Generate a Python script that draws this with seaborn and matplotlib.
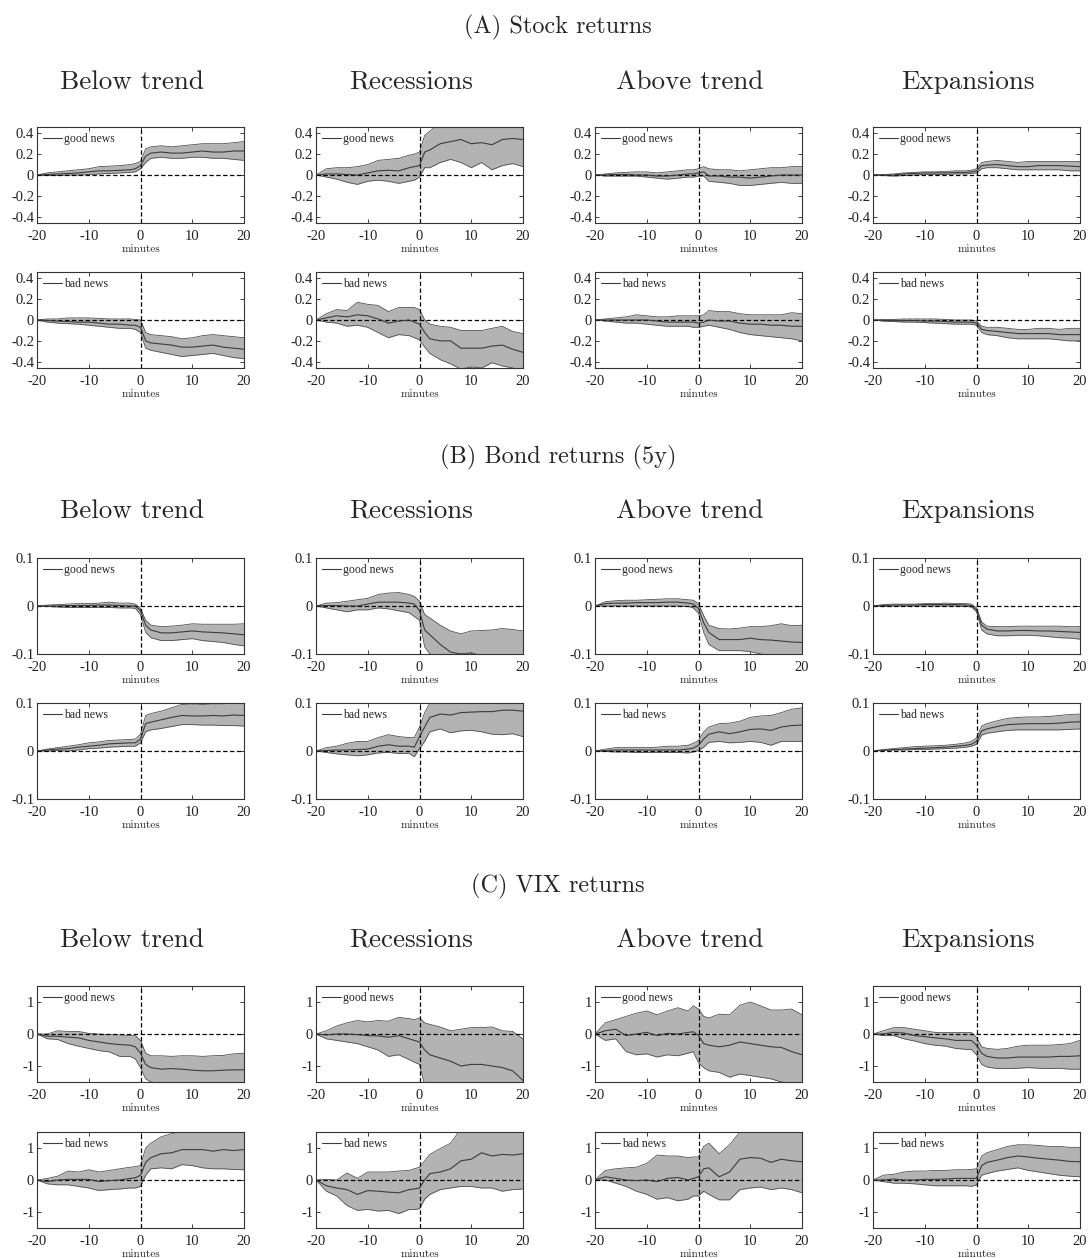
import numpy as np
import pandas as pd
import matplotlib
matplotlib.use("Agg")
import matplotlib.pyplot as plt
import seaborn as sns

# ---------------- data ----------------
minutes = [-20, -18, -16, -14, -12, -10, -8, -6, -4, -2, -1, 0, 1, 2, 4, 6, 8, 10, 12, 14, 16, 18, 20]

panel_titles = ["(A) Stock returns", "(B) Bond returns (5y)", "(C) VIX returns"]
column_titles = ["Below trend", "Recessions", "Above trend", "Expansions"]
news_labels = ["good news", "bad news"]

# Panel A: stock returns
A_below_good_mean = [0, .005, .01, .015, .02, .03, .04, .04, .045, .05, .06, .09, .18, .21, .22, .21, .21, .22, .23, .22, .22, .23, .23]
A_below_good_hi = [0, .02, .03, .04, .05, .06, .08, .085, .09, .10, .11, .13, .25, .27, .28, .27, .28, .29, .30, .30, .30, .31, .32]
A_below_good_lo = [0, -.005, -.005, 0, 0, .005, .01, .015, .02, .025, .03, .06, .12, .16, .17, .16, .16, .17, .17, .16, .16, .15, .14]
A_below_bad_mean = [0, -.005, -.01, -.015, -.02, -.02, -.03, -.04, -.04, -.05, -.05, -.07, -.20, -.22, -.23, -.24, -.26, -.26, -.25, -.24, -.26, -.27, -.28]
A_below_bad_hi = [0, .01, .01, .02, .02, .02, .015, .01, .01, .01, .005, 0, -.12, -.14, -.15, -.16, -.18, -.17, -.15, -.14, -.15, -.16, -.17]
A_below_bad_lo = [0, -.02, -.03, -.035, -.04, -.05, -.06, -.07, -.08, -.08, -.09, -.12, -.27, -.29, -.31, -.33, -.35, -.34, -.33, -.32, -.34, -.36, -.37]

A_rec_good_mean = [0, .01, .01, .005, 0, .02, .04, .045, .04, .07, .08, .09, .22, .24, .30, .32, .34, .30, .31, .29, .34, .35, .34]
A_rec_good_hi = [0, .06, .07, .07, .08, .10, .14, .15, .16, .19, .20, .22, .38, .42, .50, .52, .55, .50, .52, .50, .55, .58, .56]
A_rec_good_lo = [0, -.02, -.04, -.07, -.09, -.06, -.05, -.06, -.08, -.06, -.05, -.02, .07, .07, .12, .15, .12, .07, .12, .05, .09, .11, .08]
A_rec_bad_mean = [0, .02, .04, .03, .05, .04, .01, -.03, -.01, 0, -.02, -.04, -.12, -.18, -.20, -.20, -.27, -.27, -.27, -.25, -.24, -.28, -.31]
A_rec_bad_hi = [0, .06, .10, .09, .17, .15, .14, .08, .12, .12, .12, .10, 0, -.04, -.06, -.07, -.10, -.10, -.10, -.08, -.06, -.11, -.13]
A_rec_bad_lo = [0, -.02, -.03, -.06, -.05, -.07, -.12, -.17, -.14, -.15, -.17, -.19, -.26, -.32, -.38, -.42, -.47, -.45, -.46, -.41, -.44, -.46, -.48]

A_above_good_mean = [0, 0, .005, .005, 0, 0, -.01, -.01, 0, .01, .01, .02, .03, -.01, -.01, -.02, -.02, -.03, -.02, -.01, 0, 0, 0]
A_above_good_hi = [0, .01, .02, .025, .03, .03, .02, .03, .04, .05, .05, .06, .08, .06, .05, .05, .04, .05, .06, .07, .07, .08, .08]
A_above_good_lo = [0, -.01, -.01, -.01, -.01, -.02, -.03, -.04, -.03, -.02, -.02, -.01, -.01, -.06, -.07, -.08, -.10, -.10, -.09, -.08, -.07, -.08, -.08]
A_above_bad_mean = [0, 0, 0, 0, 0, 0, -.01, -.02, -.02, -.02, -.02, -.03, -.02, 0, -.01, -.01, -.03, -.04, -.04, -.05, -.05, -.06, -.06]
A_above_bad_hi = [0, .01, .02, .03, .05, .04, .03, .03, .04, .04, .04, .04, .05, .09, .08, .08, .06, .05, .05, .05, .05, .07, .06]
A_above_bad_lo = [0, -.01, -.02, -.03, -.03, -.04, -.05, -.06, -.06, -.06, -.07, -.07, -.06, -.05, -.07, -.09, -.12, -.14, -.15, -.16, -.17, -.18, -.20]

A_exp_good_mean = [0, 0, 0, .01, .015, .02, .02, .02, .025, .025, .03, .04, .09, .095, .10, .09, .08, .08, .09, .09, .09, .085, .08]
A_exp_good_hi = [0, .005, .01, .02, .025, .03, .03, .035, .04, .04, .045, .06, .12, .13, .14, .13, .12, .13, .13, .13, .13, .13, .13]
A_exp_good_lo = [0, -.005, -.01, -.005, 0, .005, .005, .005, .01, .01, .015, .02, .06, .07, .07, .06, .05, .05, .05, .05, .05, .04, .04]
A_exp_bad_mean = [0, -.005, -.005, -.005, -.005, -.01, -.01, -.015, -.02, -.02, -.02, -.03, -.09, -.10, -.11, -.12, -.13, -.13, -.13, -.13, -.14, -.14, -.14]
A_exp_bad_hi = [0, .005, .005, .01, .01, .01, .01, .005, 0, 0, 0, -.01, -.06, -.07, -.07, -.08, -.09, -.09, -.08, -.08, -.09, -.08, -.08]
A_exp_bad_lo = [0, -.01, -.015, -.02, -.02, -.025, -.03, -.035, -.04, -.04, -.04, -.05, -.12, -.14, -.15, -.17, -.18, -.18, -.18, -.18, -.19, -.20, -.20]

# Panel B: bond returns (5y)
B_below_good_mean = [0, 0, 0, .001, .001, .001, .002, .002, .001, 0, 0, -.01, -.04, -.05, -.056, -.056, -.054, -.052, -.054, -.055, -.056, -.058, -.06]
B_below_good_hi = [0, .002, .003, .004, .005, .005, .006, .008, .006, .006, .004, -.005, -.03, -.04, -.043, -.042, -.040, -.037, -.038, -.038, -.038, -.038, -.037]
B_below_good_lo = [0, -.001, -.002, -.003, -.003, -.003, -.003, -.003, -.004, -.004, -.005, -.018, -.055, -.066, -.072, -.072, -.070, -.068, -.072, -.074, -.076, -.080, -.083]
B_below_bad_mean = [0, .002, .004, .005, .008, .010, .012, .015, .016, .017, .017, .025, .057, .060, .065, .070, .074, .073, .073, .074, .073, .075, .074]
B_below_bad_hi = [0, .004, .007, .010, .013, .017, .019, .022, .023, .024, .025, .035, .074, .078, .083, .090, .097, .098, .097, .098, .098, .100, .100]
B_below_bad_lo = [0, 0, .001, 0, .002, .005, .006, .008, .009, .010, .010, .017, .040, .044, .047, .051, .055, .055, .054, .054, .053, .053, .052]

B_rec_good_mean = [0, .001, .001, 0, 0, .004, .008, .008, .008, .006, .004, -.01, -.05, -.06, -.08, -.096, -.10, -.10, -.102, -.105, -.107, -.11, -.112]
B_rec_good_hi = [0, .006, .007, .010, .013, .016, .024, .027, .028, .024, .020, .010, -.018, -.025, -.040, -.052, -.058, -.052, -.051, -.050, -.047, -.049, -.052]
B_rec_good_lo = [0, -.004, -.008, -.012, -.008, -.008, -.004, -.006, -.010, -.014, -.022, -.030, -.085, -.10, -.108, -.105, -.10, -.097, -.105, -.11, -.12, -.12, -.13]
B_rec_bad_mean = [0, .001, .002, .002, .003, .004, .010, .013, .010, .010, .008, .030, .050, .070, .077, .075, .080, .081, .082, .082, .085, .085, .083]
B_rec_bad_hi = [0, .007, .010, .016, .020, .020, .028, .034, .030, .028, .028, .050, .080, .100, .115, .120, .120, .130, .130, .130, .140, .140, .140]
B_rec_bad_lo = [0, -.003, -.006, -.008, -.010, -.008, -.004, -.003, -.005, -.005, -.012, .005, .020, .040, .046, .038, .042, .043, .040, .035, .034, .036, .030]

B_above_good_mean = [0, .005, .006, .006, .007, .007, .007, .008, .008, .006, .004, -.005, -.035, -.055, -.070, -.070, -.070, -.067, -.070, -.071, -.073, -.075, -.076]
B_above_good_hi = [0, .009, .011, .012, .012, .013, .014, .015, .015, .013, .012, .005, -.020, -.040, -.047, -.048, -.046, -.043, -.043, -.041, -.037, -.041, -.040]
B_above_good_lo = [0, 0, 0, 0, 0, 0, 0, 0, 0, -.001, -.004, -.015, -.055, -.080, -.093, -.093, -.093, -.095, -.100, -.103, -.104, -.104, -.105]
B_above_bad_mean = [0, .001, .002, .002, .002, .002, .002, .002, .002, .004, .006, .012, .025, .035, .040, .036, .040, .045, .046, .043, .050, .053, .054]
B_above_bad_hi = [0, .004, .007, .007, .007, .007, .008, .010, .010, .012, .016, .022, .040, .050, .057, .058, .062, .070, .073, .074, .080, .087, .090]
B_above_bad_lo = [0, -.001, -.002, -.002, -.003, -.003, -.003, -.003, -.003, -.004, -.002, .001, .008, .018, .020, .017, .018, .020, .018, .012, .020, .020, .020]

B_exp_good_mean = [0, .001, .002, .002, .002, .003, .003, .003, .003, .002, .001, -.008, -.040, -.048, -.052, -.052, -.051, -.051, -.052, -.052, -.053, -.054, -.055]
B_exp_good_hi = [0, .003, .004, .004, .004, .005, .005, .006, .005, .005, .004, -.004, -.033, -.042, -.043, -.043, -.042, -.042, -.042, -.042, -.042, -.043, -.043]
B_exp_good_lo = [0, -.001, 0, 0, 0, 0, 0, 0, 0, -.001, -.002, -.012, -.050, -.058, -.062, -.062, -.061, -.061, -.062, -.064, -.066, -.067, -.069]
B_exp_bad_mean = [0, .002, .003, .004, .005, .006, .007, .008, .010, .012, .014, .020, .042, .046, .051, .055, .056, .057, .057, .057, .058, .060, .061]
B_exp_bad_hi = [0, .003, .005, .007, .009, .010, .011, .012, .014, .017, .020, .027, .052, .057, .063, .068, .070, .071, .071, .072, .074, .076, .077]
B_exp_bad_lo = [0, .001, .002, .002, .003, .003, .004, .005, .006, .008, .010, .014, .033, .037, .040, .043, .044, .044, .044, .044, .044, .045, .046]

# Panel C: VIX returns
C_below_good_mean = [0, -.07, -.07, -.10, -.12, -.20, -.25, -.30, -.33, -.35, -.40, -.60, -.95, -1.05, -1.10, -1.08, -1.10, -1.13, -1.15, -1.15, -1.13, -1.12, -1.12]
C_below_good_hi = [0, 0, .10, .08, .08, .02, 0, -.02, -.03, -.05, -.05, -.20, -.60, -.68, -.68, -.70, -.68, -.68, -.70, -.68, -.67, -.62, -.60]
C_below_good_lo = [0, -.15, -.17, -.30, -.38, -.45, -.52, -.56, -.70, -.70, -.78, -1.05, -1.40, -1.50, -1.55, -1.60, -1.60, -1.65, -1.65, -1.65, -1.65, -1.65, -1.65]
C_below_bad_mean = [0, -.05, 0, .02, .02, .02, -.05, -.02, 0, .05, .07, .15, .55, .70, .82, .85, .95, .95, .95, .90, .95, .92, .95]
C_below_bad_hi = [0, .05, .12, .28, .25, .32, .25, .30, .35, .40, .42, .45, 1.0, 1.15, 1.35, 1.45, 1.50, 1.50, 1.50, 1.52, 1.55, 1.55, 1.55]
C_below_bad_lo = [0, -.12, -.15, -.15, -.20, -.25, -.33, -.30, -.28, -.25, -.25, -.20, .15, .35, .38, .35, .48, .45, .38, .35, .35, .33, .32]

C_rec_good_mean = [0, -.03, 0, 0, -.02, -.05, -.06, -.10, -.05, -.15, -.20, -.25, -.50, -.65, -.75, -.85, -1.0, -.95, -.95, -1.0, -1.05, -1.15, -1.45]
C_rec_good_hi = [0, .10, .25, .35, .42, .38, .42, .40, .52, .48, .45, .50, .35, .30, .22, .10, .15, .20, .20, .22, .10, .08, -.15]
C_rec_good_lo = [0, -.15, -.20, -.25, -.30, -.40, -.50, -.70, -.65, -.80, -.88, -.95, -1.60, -1.80, -1.90, -2.0, -2.1, -2.1, -2.1, -2.2, -2.2, -2.3, -2.5]
C_rec_bad_mean = [0, -.18, -.25, -.30, -.45, -.33, -.35, -.38, -.40, -.30, -.28, -.25, 0, .20, .25, .35, .60, .65, .85, .75, .80, .78, .82]
C_rec_bad_hi = [0, .02, 0, .22, .05, .25, .25, .25, .28, .30, .35, .40, .60, .80, .98, 1.15, 1.60, 1.7, 1.8, 1.8, 1.9, 1.9, 2.0]
C_rec_bad_lo = [0, -.35, -.50, -.80, -.95, -.92, -.97, -.95, -1.05, -.92, -.92, -.90, -.60, -.45, -.30, -.25, -.20, -.20, -.25, -.25, -.35, -.30, -.28]

C_above_good_mean = [0, .10, .15, -.05, 0, .05, -.05, .02, 0, .05, .07, -.05, -.30, -.35, -.40, -.35, -.25, -.30, -.35, -.40, -.42, -.55, -.65]
C_above_good_hi = [0, .35, .45, .55, .65, .72, .60, .72, .82, .72, .88, .78, .55, .50, .62, .60, .90, 1.0, .88, .75, .75, .78, .60]
C_above_good_lo = [0, -.20, -.15, -.55, -.65, -.62, -.72, -.65, -.68, -.60, -.55, -.90, -1.05, -1.15, -1.20, -1.35, -1.25, -1.30, -1.35, -1.40, -1.50, -1.55, -1.60]
C_above_bad_mean = [0, .10, .05, 0, -.02, 0, -.05, .05, .08, 0, .05, .10, .35, .38, .10, .25, .65, .70, .68, .55, .65, .60, .57]
C_above_bad_hi = [0, .30, .35, .38, .40, .52, .78, .75, .75, .70, .72, .72, 1.05, 1.15, .82, 1.10, 1.50, 1.65, 1.70, 1.75, 1.8, 1.8, 1.8]
C_above_bad_lo = [0, 0, -.10, -.20, -.35, -.45, -.60, -.55, -.65, -.60, -.50, -.50, -.35, -.45, -.62, -.62, -.30, -.25, -.22, -.30, -.25, -.30, -.40]

C_exp_good_mean = [0, 0, .05, .03, -.05, -.08, -.12, -.15, -.20, -.20, -.20, -.35, -.60, -.70, -.75, -.75, -.72, -.72, -.72, -.72, -.70, -.70, -.68]
C_exp_good_hi = [0, .10, .20, .20, .15, .10, .05, .05, .05, .05, .05, -.10, -.40, -.45, -.48, -.45, -.38, -.35, -.35, -.35, -.33, -.30, -.20]
C_exp_good_lo = [0, -.05, -.05, -.15, -.22, -.30, -.35, -.38, -.45, -.48, -.48, -.65, -.95, -1.03, -1.08, -1.08, -1.07, -1.05, -1.07, -1.08, -1.07, -1.10, -1.10]
C_exp_bad_mean = [0, 0, .03, 0, 0, .02, .02, .03, .05, .05, .05, .05, .45, .55, .62, .70, .75, .72, .68, .65, .62, .58, .57]
C_exp_bad_hi = [0, .15, .18, .25, .28, .28, .30, .30, .32, .32, .33, .35, .75, .85, .95, 1.05, 1.10, 1.10, 1.08, 1.05, 1.05, 1.02, 1.02]
C_exp_bad_lo = [0, -.05, -.10, -.10, -.12, -.15, -.18, -.18, -.18, -.18, -.20, -.15, .15, .20, .28, .33, .38, .30, .25, .20, .15, .12, .10]

# y-axis settings per panel
A_yticks = [-0.4, -0.2, 0, 0.2, 0.4]
A_yticklabels = ["-0.4", "-0.2", "0", "0.2", "0.4"]
B_yticks = [-0.1, 0, 0.1]
B_yticklabels = ["-0.1", "0", "0.1"]
C_yticks = [-1, 0, 1]
C_yticklabels = ["-1", "0", "1"]
x_ticks = [-20, -10, 0, 10, 20]

# ---------------- build long table ----------------
g = globals()
rows = []
for pk in ["A", "B", "C"]:
    for ck in ["below", "rec", "above", "exp"]:
        for nk in ["good", "bad"]:
            m = g[f"{pk}_{ck}_{nk}_mean"]
            lo = g[f"{pk}_{ck}_{nk}_lo"]
            hi = g[f"{pk}_{ck}_{nk}_hi"]
            for x, a, b, c in zip(minutes, m, lo, hi):
                rows.append(dict(panel=pk, col=ck, news=nk, minute=x, mean=a, lo=b, hi=c))
df = pd.DataFrame(rows)

# ---------------- style ----------------
sns.set_theme(style="ticks")
plt.rcParams['font.family'] = ['Liberation Serif', 'DejaVu Serif']
plt.rcParams['axes.unicode_minus'] = False

W, H = 1089, 1258
fig = plt.figure(figsize=(W / 100, H / 100), dpi=100)

col_left = [37, 316, 595, 873]
ax_w, ax_h = 207, 96
row_tops = {"A": (127, 272), "B": (558, 703), "C": (986, 1132)}
panel_title_y = {"A": 27, "B": 457, "C": 886}
col_title_y = {"A": 82, "B": 511, "C": 940}
ylims = {"A": (-0.46, 0.46), "B": (-0.1, 0.1), "C": (-1.5, 1.5)}
yticks = {"A": (A_yticks, A_yticklabels), "B": (B_yticks, B_yticklabels), "C": (C_yticks, C_yticklabels)}

band_color = "#b3b3b3"
edge_color = "#505050"
mean_color = "#3c3c3c"

for pi, pk in enumerate(["A", "B", "C"]):
    fig.text(558 / W, 1 - panel_title_y[pk] / H, panel_titles[pi], ha="center", va="center",
             fontfamily="cmr10", fontsize=17.5)
    for ci, ck in enumerate(["below", "rec", "above", "exp"]):
        left = col_left[ci]
        fig.text((left + ax_w / 2 - 9) / W, 1 - col_title_y[pk] / H, column_titles[ci],
                 ha="center", va="center", fontfamily="cmr10", fontsize=19.5)
        for ri, nk in enumerate(["good", "bad"]):
            top = row_tops[pk][ri]
            ax = fig.add_axes([left / W, 1 - (top + ax_h) / H, ax_w / W, ax_h / H])
            sub = df[(df.panel == pk) & (df.col == ck) & (df.news == nk)]
            ax.fill_between(sub["minute"], sub["lo"], sub["hi"], color=band_color, lw=0, zorder=1)
            sns.lineplot(data=sub, x="minute", y="lo", ax=ax, color=edge_color, lw=0.6, zorder=2)
            sns.lineplot(data=sub, x="minute", y="hi", ax=ax, color=edge_color, lw=0.6, zorder=2)
            ax.axhline(0, color="black", ls=(0, (3.5, 2)), lw=0.9, zorder=3)
            ax.axvline(0, color="black", ls=(0, (3.5, 2)), lw=0.9, zorder=3)
            sns.lineplot(data=sub, x="minute", y="mean", ax=ax, color=mean_color, lw=0.8,
                         zorder=4, label=news_labels[ri])
            ax.set_xlim(-20, 20)
            ax.set_ylim(*ylims[pk])
            ax.set_xticks(x_ticks)
            ax.set_xticklabels([str(t) for t in x_ticks])
            ax.set_yticks(yticks[pk][0])
            ax.set_yticklabels(yticks[pk][1])
            ax.set_ylabel("")
            ax.set_xlabel("minutes", fontfamily="cmr10", fontsize=8, labelpad=1)
            ax.tick_params(direction="in", top=True, right=True, bottom=True, left=True,
                           length=3, width=0.6, labelsize=10.5, colors="#222222")
            ax.tick_params(axis="x", pad=5)
            ax.tick_params(axis="y", pad=2)
            for s in ax.spines.values():
                s.set_linewidth(0.8)
                s.set_color("#333333")
            ax.legend(loc="upper left", frameon=False, fontsize=8.5, handlelength=1.6,
                      handletextpad=0.2, borderaxespad=0.3, borderpad=0.2)

fig.savefig("out.png", dpi=100, facecolor="white")
